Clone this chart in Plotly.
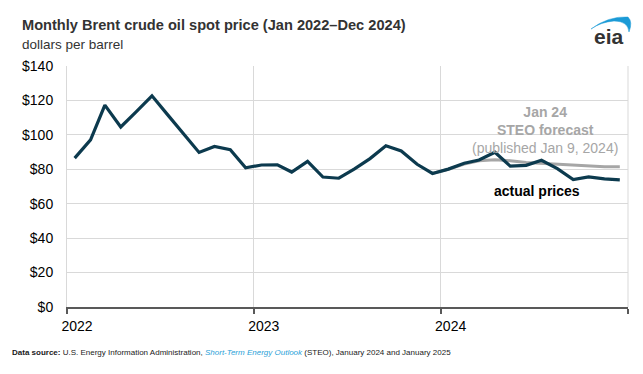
import plotly.graph_objects as go

months_actual = [f"{y}-{m:02d}-16" for y in (2022, 2023, 2024) for m in range(1, 13)]
brent_actual = [86.5, 97.1, 117.3, 104.6, 113.3, 122.7, 111.9, 100.5, 89.8, 93.3, 91.4, 80.9,
                82.5, 82.6, 78.4, 84.6, 75.5, 74.8, 80.1, 86.2, 93.7, 90.6, 82.9, 77.6,
                80.1, 83.5, 85.4, 89.9, 81.8, 82.3, 85.2, 80.4, 74.0, 75.6, 74.4, 73.9]

months_steo = ["2023-12-16"] + [f"2024-{m:02d}-16" for m in range(1, 13)]
brent_steo = [77.6, 80.0, 83.0, 85.0, 85.5, 85.0, 84.0, 83.5, 83.0, 82.5, 82.0, 81.5, 81.5]

year_ticks = ["2022-01-01", "2023-01-01", "2024-01-01", "2025-01-01"]
year_labels = ["2022", "2023", "2024", ""]
y_ticks = [0, 20, 40, 60, 80, 100, 120, 140]
y_labels = [f"${v}" for v in y_ticks]

OFF = 8  # page body margin
PW, PH = 643, 374
W, H = PW - OFF, PH - OFF
L, R, T, B = 67, 628, 66, 307  # plot area in page pixels

def px(x):
    return (x - L) / (R - L)

def py(y):
    return (B - y) / (B - T)

fig = go.Figure()
fig.add_trace(go.Scatter(x=months_steo, y=brent_steo, mode="lines",
                         line=dict(color="#a6a6a6", width=3), hoverinfo="skip"))
fig.add_trace(go.Scatter(x=months_actual, y=brent_actual, mode="lines",
                         line=dict(color="#0c3a4e", width=3.2), hoverinfo="skip"))

fig.update_layout(
    width=W, height=H,
    margin=dict(l=L - OFF, r=PW - R, t=T - OFF, b=PH - B),
    paper_bgcolor="white", plot_bgcolor="white",
    showlegend=False,
    font=dict(family="Arial, Liberation Sans, sans-serif", color="#262626"),
    xaxis=dict(type="date", range=["2022-01-01", "2025-01-01"],
               tickvals=year_ticks, ticktext=year_labels,
               showgrid=True, gridcolor="#d9d9d9", gridwidth=1,
               showline=True, linecolor="#595959", linewidth=1.5,
               ticks="outside", ticklen=5, tickcolor="#595959", tickwidth=1.5,
               ticklabelshift=10,
               tickfont=dict(size=14, color="#000000"), zeroline=False),
    yaxis=dict(range=[0, 140], tickvals=y_ticks, ticktext=y_labels,
               showgrid=True, gridcolor="#d9d9d9", gridwidth=1,
               showline=True, linecolor="#d9d9d9", linewidth=1,
               ticks="", ticklabelstandoff=10,
               tickfont=dict(size=14, color="#000000"), zeroline=False),
)

# right edge grid line
fig.add_shape(type="line", xref="paper", yref="paper", x0=1, x1=1, y0=0, y1=1,
              line=dict(color="#d9d9d9", width=1), layer="below")

ann = []
ann.append(dict(text="<b>Monthly Brent crude oil spot price (Jan 2022\u2013Dec 2024)</b>",
                x=px(20), y=py(25), xanchor="left", yanchor="middle",
                font=dict(size=14.6, color="#333333")))
ann.append(dict(text="dollars per barrel", x=px(20), y=py(44), xanchor="left", yanchor="middle",
                font=dict(size=13.5, color="#333333")))
ann.append(dict(text="<b>Jan 24</b><br><b>STEO forecast</b><br>(published Jan 9, 2024)",
                x=px(545), y=py(130), xanchor="center", yanchor="middle", align="center",
                font=dict(size=14, color="#a6a6a6")))
ann.append(dict(text="<b>actual prices</b>", x=px(537), y=py(191), xanchor="center", yanchor="middle",
                font=dict(size=14, color="#000000")))
ann.append(dict(text="<b>Data source:</b> U.S. Energy Information Administration, "
                     "<i><span style='color:#2a9fd8'>Short-Term Energy Outlook</span></i> (STEO), "
                     "January 2024 and January 2025",
                x=px(10), y=py(352), xanchor="left", yanchor="middle",
                font=dict(family="Arial, Liberation Sans, sans-serif",
                          size=8, color="#1a1a1a")))
ann.append(dict(text="<b>eia</b>", x=px(609), y=py(37), xanchor="center", yanchor="middle",
                font=dict(size=21, color="#333333")))
for a in ann:
    a.update(xref="paper", yref="paper", showarrow=False)
fig.update_layout(annotations=ann)

# eia swoosh
path = (f"M {px(591)},{py(29)} Q {px(608)},{py(16)} {px(628)},{py(17)} "
        f"Q {px(633)},{py(22)} {px(629)},{py(32)} "
        f"Q {px(628)},{py(21)} {px(614)},{py(21)} Q {px(601)},{py(22)} {px(591)},{py(29)} Z")
fig.add_shape(type="path", xref="paper", yref="paper", path=path,
              fillcolor="#1b9ad6", line=dict(color="#1b9ad6", width=0.5))

fig.write_html("out.html")
